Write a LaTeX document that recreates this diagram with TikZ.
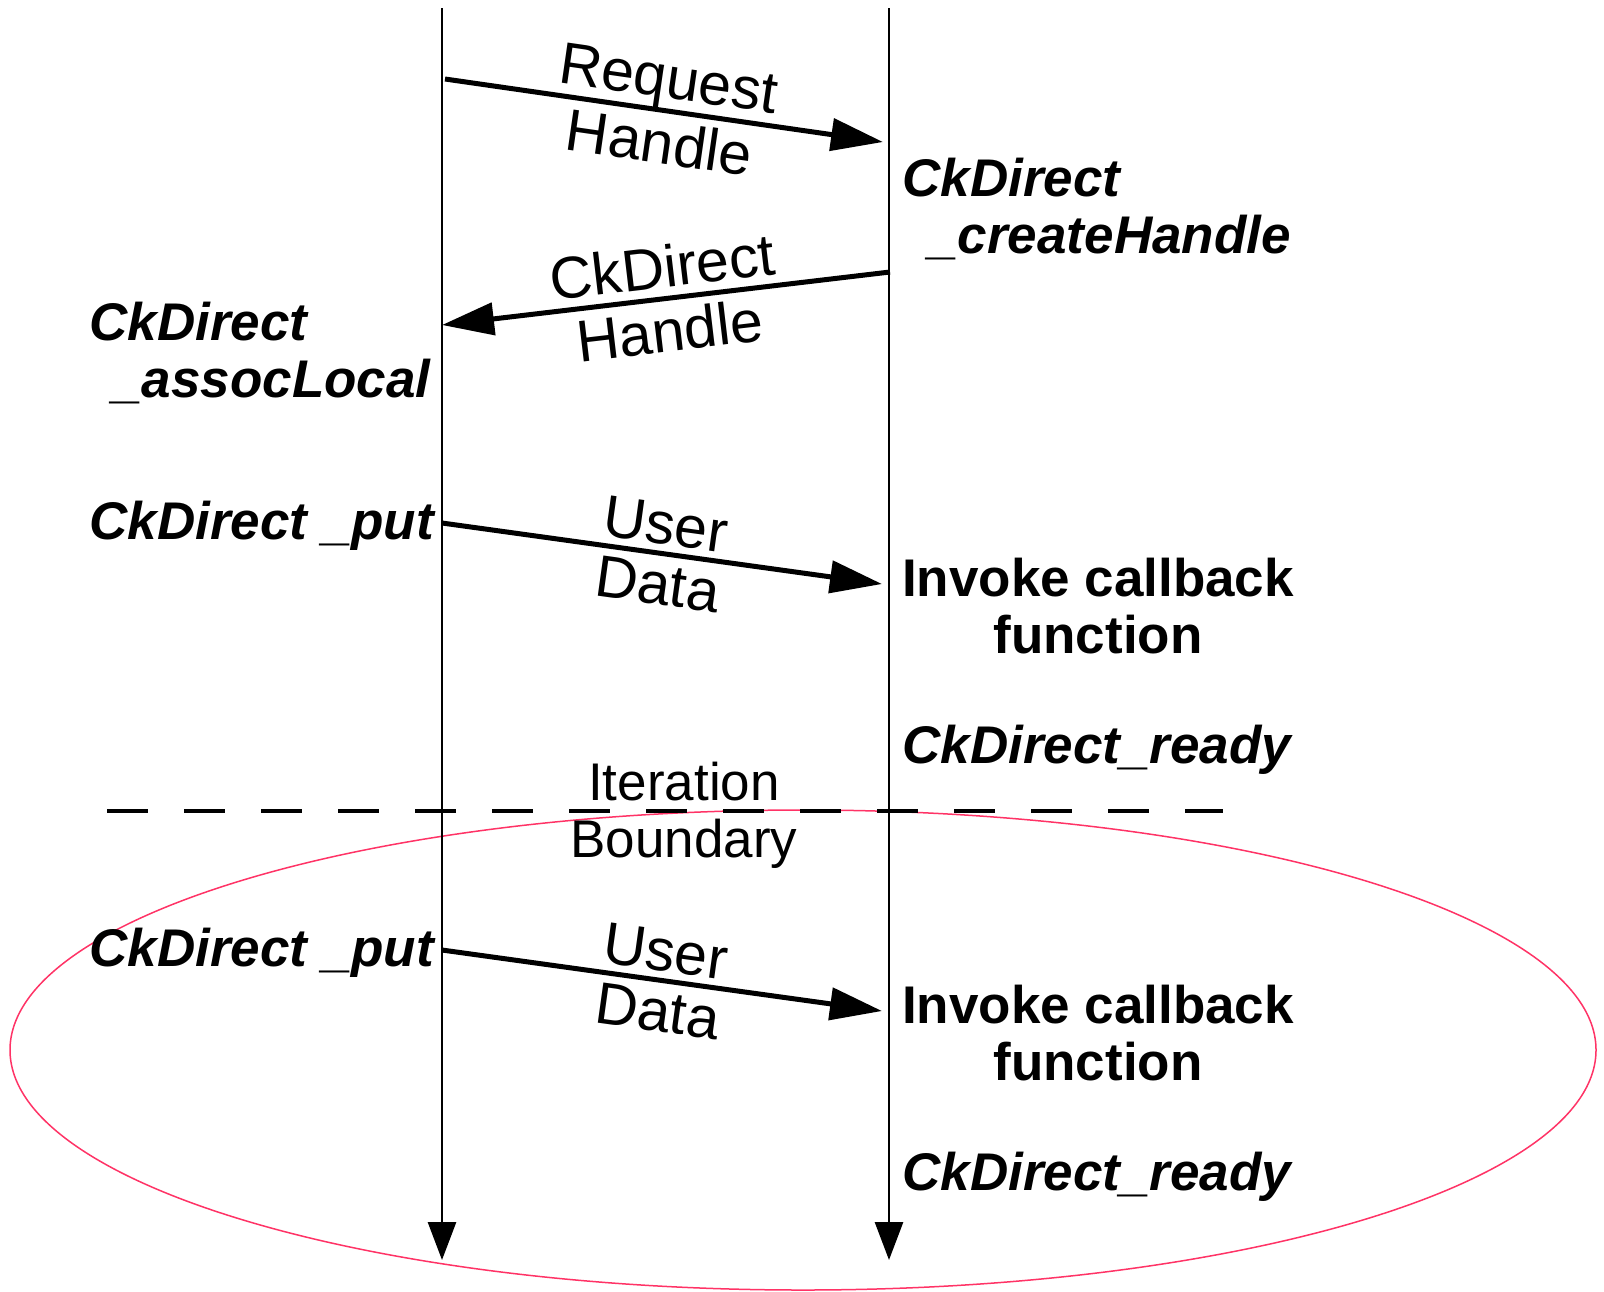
\documentclass[tikz,border=0pt]{standalone}
\usepackage{fontspec}
\setmainfont{Liberation Sans}
\usetikzlibrary{arrows.meta}
\definecolor{ring}{HTML}{FF3366}
\tikzset{
  life/.style={line width=1.4pt, -{Triangle[length=19pt,width=14pt]}},
  msg/.style={line width=2.5pt, -{Triangle[length=26pt,width=16pt]}},
  txt/.style={font=\fontsize{26.5}{28.5}\selectfont, inner sep=1pt},
  lab/.style={txt, font=\fontsize{29.5}{31}\selectfont, sloped},
  call/.style={txt, font=\fontsize{26.5}{28.5}\selectfont\bfseries\itshape},
  act/.style={txt, font=\fontsize{26.5}{28.5}\selectfont\bfseries, align=center},
}
\begin{document}
\begin{tikzpicture}[x=0.5pt, y=-0.5pt, line join=round]
  \useasboundingbox (0,0) rectangle (1604,1291);
  \draw[ring, line width=0.75pt] (803,1050) ellipse [x radius=793, y radius=240];
  % lifelines
  \coordinate (src-top) at (442,8); \coordinate (src-end) at (442,1260);
  \coordinate (dst-top) at (889,8); \coordinate (dst-end) at (889,1260);
  \draw[life] (src-top) -- (src-end);
  \draw[life] (dst-top) -- (dst-end);
  % handle exchange
  \coordinate (req-s) at (445,79); \coordinate (req-e) at (883,142);
  \draw[msg] (req-s) -- node[lab, above=-2pt] (req-top) {Request} node[lab, below=3pt] (req-bot) {Handle} (req-e);
  \coordinate (hnd-s) at (890,272); \coordinate (hnd-e) at (442,325);
  \draw[msg] (hnd-s) -- node[lab, above=3pt] (hnd-top) {CkDirect} node[lab, below=3pt] (hnd-bot) {Handle} (hnd-e);
  \node[call, anchor=base west, align=left] (create) at (900,253) {CkDirect\\\hspace*{13pt}\_createHandle};
  \node[call, anchor=base west, align=left] (assoc) at (87,397) {CkDirect\\\hspace*{11.5pt}\_assocLocal};
  % iteration boundary
  \coordinate (cut-l) at (107,811); \coordinate (cut-r) at (1223,811);
  \draw[line width=2pt, dash pattern=on 20.5pt off 18pt] (cut-l) -- (cut-r);
  \node[txt, align=center, anchor=base] (iter) at (684,857) {Iteration\\Boundary};
  % put / callback, once per iteration
  \foreach \dy/\k in {0/a,427/b}{
    \node[call, anchor=base west] (put-\k) at (87,539+\dy) {CkDirect \_put};
    \coordinate (data-s-\k) at (442,523+\dy); \coordinate (data-e-\k) at (882,584+\dy);
    \draw[msg] (data-s-\k) -- node[lab, above=2pt] (user-\k) {User} node[lab, below=3pt] (data-\k) {Data} (data-e-\k);
    \node[act, anchor=base] (cb-\k) at (1098,653+\dy) {Invoke callback\\function};
    \node[call, anchor=base west] (ready-\k) at (900,763+\dy) {CkDirect\_ready};
  }
\end{tikzpicture}
\end{document}
